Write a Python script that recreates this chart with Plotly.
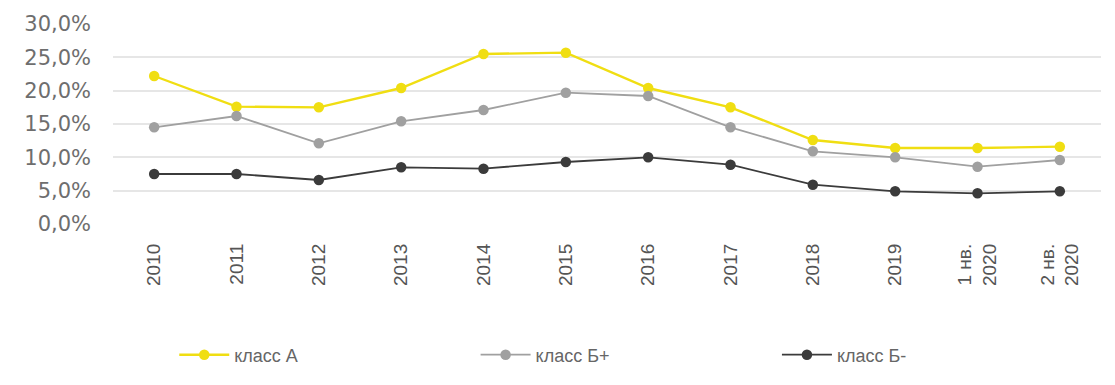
import plotly.graph_objects as go

categories = ["2010", "2011", "2012", "2013", "2014", "2015", "2016", "2017",
              "2018", "2019", "1 нв.<br>2020", "2 нв.<br>2020"]
class_a = [22.2, 17.6, 17.5, 20.4, 25.5, 25.7, 20.4, 17.5, 12.6, 11.4, 11.4, 11.6]
class_bplus = [14.5, 16.2, 12.1, 15.4, 17.1, 19.7, 19.2, 14.5, 10.9, 10.0, 8.6, 9.6]
class_bminus = [7.5, 7.5, 6.6, 8.5, 8.3, 9.3, 10.0, 8.9, 5.9, 4.9, 4.6, 4.9]
y_ticks = [0, 5, 10, 15, 20, 25, 30]
y_tick_labels = ["0,0%", "5,0%", "10,0%", "15,0%", "20,0%", "25,0%", "30,0%"]

series = [
    ("класс А", class_a, "#f0de12", 2.4, "legend", 0.062),
    ("класс Б+", class_bplus, "#a0a0a0", 1.8, "legend2", 0.367),
    ("класс Б-", class_bminus, "#3b3b3b", 1.8, "legend3", 0.672),
]

fig = go.Figure()
legend_font = dict(size=18, color="#666666", family="Liberation Sans Narrow, Liberation Sans")
for name, vals, color, w, lg, lx in series:
    fig.add_trace(go.Scatter(
        x=categories, y=vals, name=name, mode="lines+markers",
        line=dict(color=color, width=w),
        marker=dict(color=color, size=10.5),
        legend=lg,
    ))
    fig.update_layout({lg: dict(orientation="h", x=lx, xanchor="left", y=-0.655,
                                yanchor="middle", font=legend_font, itemwidth=50,
                                bgcolor="rgba(0,0,0,0)")})

fig.update_layout(
    width=1115, height=385,
    margin=dict(l=113, r=14, t=24, b=152),
    paper_bgcolor="white", plot_bgcolor="white",
    font=dict(family="DejaVu Sans", color="#666666"),
    showlegend=True,
    xaxis=dict(
        type="category", range=[-0.5, len(categories) - 0.5],
        tickangle=-90, showgrid=False, showline=False, zeroline=False,
        tickfont=dict(size=19, color="#555555", family="Liberation Sans Narrow, Liberation Sans"),
        ticks="", ticklabelstandoff=15, automargin=False,
    ),
    yaxis=dict(
        range=[0, 30], tickvals=y_ticks, ticktext=y_tick_labels,
        showgrid=True, gridcolor="#e6e6e6", gridwidth=1.5, zeroline=False, showline=False,
        tickfont=dict(size=21, color="#6e6e6e", family="DejaVu Sans"),
        ticks="", ticklabelstandoff=21, automargin=False,
    ),
)

fig.write_html("out.html")
